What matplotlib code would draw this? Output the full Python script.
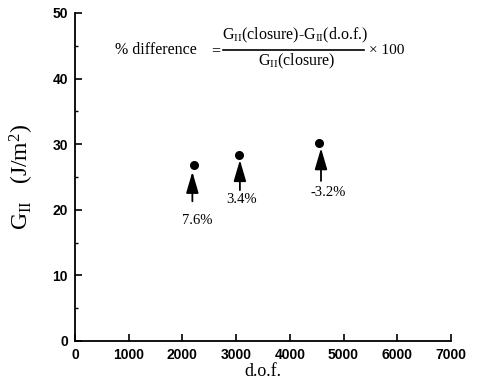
import matplotlib
matplotlib.use("Agg")
import matplotlib.pyplot as plt
from matplotlib.ticker import MultipleLocator

plt.rcParams['mathtext.fontset'] = 'custom'
plt.rcParams['mathtext.rm'] = 'Liberation Serif'
plt.rcParams['mathtext.it'] = 'Liberation Serif:italic'

dof = [2210, 3050, 4540]
g2 = [26.9, 28.4, 30.2]
labels = ["7.6%", "3.4%", "-3.2%"]
arrow_x = [2185, 3070, 4580]
arrow_tail = [21.3, 23.0, 24.4]
arrow_tip = [25.8, 27.6, 29.4]
label_x = [2270, 3110, 4710]
label_y = [18.3, 21.6, 22.6]
xticks = [0, 1000, 2000, 3000, 4000, 5000, 6000, 7000]
yticks = [0, 10, 20, 30, 40, 50]

fig = plt.figure(figsize=(4.79, 3.79), dpi=100)
ax = fig.add_axes([0.1566, 0.1003, 0.7849, 0.8654])
ax.set_xlim(0, 7000)
ax.set_ylim(0, 50)
ax.spines['top'].set_visible(False)
ax.spines['right'].set_visible(False)
for s in ['left', 'bottom']:
    ax.spines[s].set_linewidth(1.3)
ax.set_xticks(xticks)
ax.set_yticks(yticks)
ax.yaxis.set_minor_locator(MultipleLocator(5))
ax.tick_params(direction='in', length=5, width=1.2, labelsize=10, pad=5)
ax.tick_params(which='minor', direction='in', length=2.5, width=1)
for lab in ax.get_xticklabels() + ax.get_yticklabels():
    lab.set_fontweight('bold')
    lab.set_family('Liberation Sans')

ax.plot(dof, g2, 'o', color='black', markersize=5.5)
for x, t0, t1 in zip(arrow_x, arrow_tail, arrow_tip):
    ax.annotate('', xy=(x, t1), xytext=(x, t0),
                arrowprops=dict(arrowstyle='-|>,head_length=1.3,head_width=0.38',
                                color='black', lw=1.3, shrinkA=0, shrinkB=0))
for x, y, s in zip(label_x, label_y, labels):
    ax.text(x, y, s, ha='center', va='center', fontsize=10.5, family='Liberation Serif')

ax.set_xlabel('d.o.f.', fontsize=13, family='Liberation Serif', labelpad=1)
ax.set_ylabel(r'G$_{\mathrm{II}}$   (J/m$^2$)', fontsize=17, family='Liberation Serif', labelpad=12)

# formula
serif = 'Liberation Serif'
fig.text(115/479, 1 - 50/379, '% difference', fontsize=11.5, family=serif, va='center', ha='left')
fig.text(211/479, 1 - 51/379, '=', fontsize=11.5, family=serif, va='center', ha='left')
fig.text(295/479, 1 - 35/379, r'G$_{\mathrm{II}}$(closure)-G$_{\mathrm{II}}$(d.o.f.)', fontsize=11.5, family=serif, va='center', ha='center')
fig.text(297/479, 1 - 61/379, r'G$_{\mathrm{II}}$(closure)', fontsize=11.5, family=serif, va='center', ha='center')
fig.add_artist(plt.Line2D([223/479, 364/479], [1 - 50/379, 1 - 50/379], color='black', lw=1.2, transform=fig.transFigure))
fig.text(369/479, 1 - 50/379, '× 100', fontsize=11, family=serif, va='center', ha='left')

fig.savefig('out.png', dpi=100)
